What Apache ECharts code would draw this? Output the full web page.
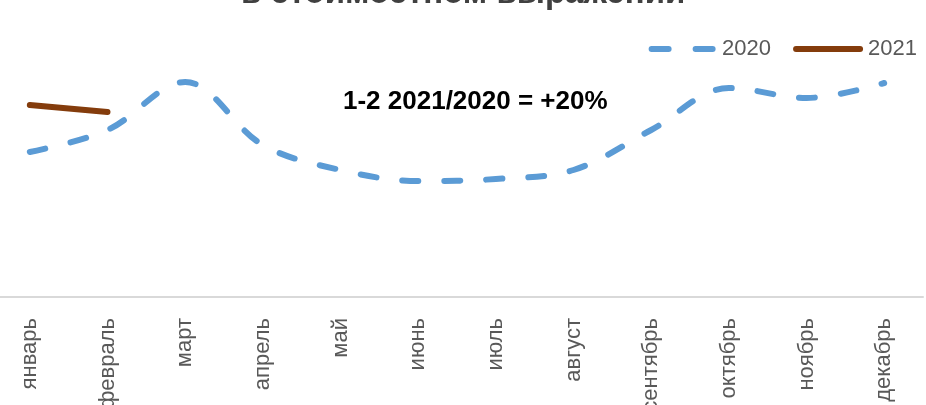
<!DOCTYPE html>
<html>
<head>
<meta charset="utf-8">
<script src="https://cdn.jsdelivr.net/npm/echarts@6/dist/echarts.min.js"></script>
<style>
html,body{margin:0;padding:0;background:#fff;}
#chart{width:926px;height:405px;}
</style>
</head>
<body>
<div id="chart"></div>
<script>
var months = ['январь','февраль','март','апрель','май','июнь','июль','август','сентябрь','октябрь','ноябрь','декабрь'];
var values2020 = [145, 167, 215, 152, 127, 116, 118, 127, 167, 209, 199, 214];
var values2021 = [192, 185];
var titleText = 'в стоимостном выражении';
var noteText = '1-2 2021/2020 = +20%';

var chart = echarts.init(document.getElementById('chart'), null, {renderer:'canvas'});
chart.setOption({
  animation: false,
  backgroundColor: '#ffffff',
  title: {
    text: titleText,
    left: 236,
    top: -28,
    textStyle: {fontFamily: 'Liberation Sans', fontWeight: 'bold', fontSize: 33, color: '#404040'}
  },
  legend: {
    right: 4,
    top: 31,
    itemWidth: 70,
    itemHeight: 6,
    itemGap: 22,
    textStyle: {fontFamily: 'Liberation Sans', fontSize: 22, color: '#595959', lineHeight: 26},
    data: [
      {name: '2020', icon: 'path://M3,0h17a3,3 0 0 1 0,6h-17a3,3 0 0 1 0,-6z M47,0h17a3,3 0 0 1 0,6h-17a3,3 0 0 1 0,-6z', itemStyle: {color: '#5b9bd5'}},
      {name: '2021', icon: 'path://M3,0h64a3,3 0 0 1 0,6h-64a3,3 0 0 1 0,-6z', itemStyle: {color: '#843c0c'}}
    ]
  },
  graphic: [{
    type: 'text',
    left: 343,
    top: 89,
    style: {text: noteText, font: 'bold 26px "Liberation Sans"', fill: '#000000'}
  }],
  grid: {left: -9, right: 3, top: 37, bottom: 108, containLabel: false, outerBoundsMode: 'none'},
  xAxis: {
    type: 'category',
    data: months,
    boundaryGap: true,
    axisLine: {lineStyle: {color: '#d9d9d9', width: 2}},
    axisTick: {show: false},
    axisLabel: {rotate: 90, margin: 21, fontFamily: 'Liberation Sans', fontSize: 22, color: '#595959'}
  },
  yAxis: {
    type: 'value',
    min: 0,
    max: 260,
    show: false,
    splitLine: {show: false}
  },
  series: [
    {
      name: '2020',
      type: 'line',
      data: values2020,
      smooth: 0.35,
      showSymbol: false,
      symbol: 'none',
      itemStyle: {color: '#5b9bd5'},
      lineStyle: {color: '#5b9bd5', width: 6, type: [16, 26], cap: 'round'}
    },
    {
      name: '2021',
      type: 'line',
      data: values2021,
      showSymbol: false,
      symbol: 'none',
      itemStyle: {color: '#843c0c'},
      lineStyle: {color: '#843c0c', width: 6, cap: 'round'}
    }
  ]
});
</script>
</body>
</html>
